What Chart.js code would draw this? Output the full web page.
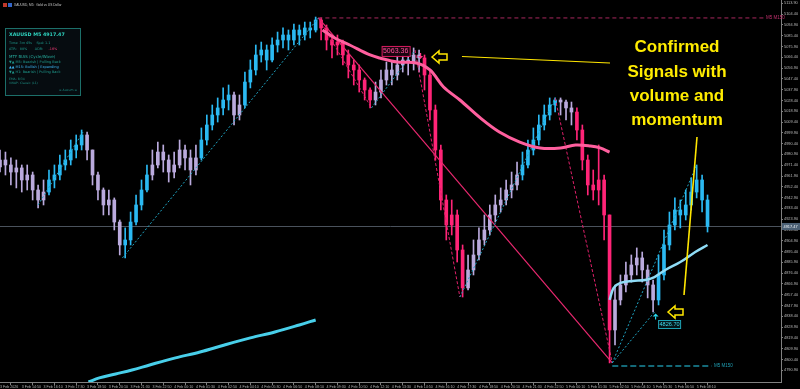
<!DOCTYPE html>
<html>
<head>
<meta charset="utf-8">
<script src="https://cdn.jsdelivr.net/npm/chart.js@4.4.1/dist/chart.umd.min.js"></script>
<style>
  html, body { margin: 0; padding: 0; background: #000; }
  #wrap { width: 800px; height: 389px; position: relative; }
</style>
</head>
<body>
<div id="wrap"><canvas id="chart"></canvas></div>
<script>
// one drawn candle = 4 M5 bars
const barStep = 4;
const firstOpen = 4970.0;
const lastPrice = 4917.47;

const closes = [
  4976.0, 4971.6, 4965.4, 4969.0, 4958.4, 4962.8, 4949.6, 4940.8, 4947.8, 4958.4,
  4962.8, 4971.6, 4976.0, 4984.8, 4989.2, 4998.0, 4984.8, 4962.8, 4949.6, 4936.4,
  4940.8, 4921.4, 4901.2, 4905.6, 4921.4, 4936.4, 4949.6, 4962.8, 4971.6, 4983.0,
  4976.0, 4965.4, 4971.6, 4984.8, 4977.8, 4967.2, 4977.8, 4993.6, 5006.8, 5015.6,
  5021.8, 5028.8, 5033.2, 5015.6, 5024.4, 5044.6, 5055.2, 5068.4, 5072.8, 5064.0,
  5077.2, 5081.6, 5086.0, 5081.6, 5090.4, 5086.0, 5092.2, 5090.4, 5099.2, 5092.2,
  5081.6, 5077.2, 5079.8, 5068.4, 5059.6, 5055.2, 5046.4, 5037.6, 5028.8, 5035.8,
  5046.4, 5055.2, 5050.8, 5059.6, 5064.0, 5062.2, 5068.4, 5065.8, 5050.8, 5020.0,
  4984.8, 4940.8, 4918.8, 4927.6, 4896.8, 4863.4, 4879.2, 4892.4, 4905.6, 4914.4,
  4927.6, 4936.4, 4940.8, 4949.6, 4954.0, 4962.8, 4971.6, 4984.8, 4993.6, 5006.8,
  5015.6, 5024.4, 5028.8, 5027.0, 5021.8, 5018.2, 5002.4, 4976.0, 4954.0, 4949.6,
  4958.4, 4927.6, 4826.4, 4852.8, 4866.0, 4874.8, 4883.6, 4889.8, 4879.2, 4866.0,
  4852.8, 4874.8, 4901.2, 4918.8, 4932.0, 4927.6, 4936.4, 4947.8, 4958.4, 4940.8,
  4917.47
];
const highs = [
  4984.8, 4983.0, 4977.8, 4976.0, 4971.6, 4971.6, 4965.4, 4954.0, 4958.4, 4967.2,
  4971.6, 4980.4, 4984.8, 4993.6, 4998.0, 5002.4, 5000.6, 4984.8, 4965.4, 4951.4,
  4949.6, 4942.6, 4923.2, 4916.2, 4930.2, 4945.2, 4958.4, 4971.6, 4984.8, 4991.8,
  4989.2, 4980.4, 4983.0, 4993.6, 4989.2, 4984.8, 4989.2, 5004.2, 5015.6, 5024.4,
  5030.6, 5039.4, 5042.0, 5035.8, 5033.2, 5053.4, 5064.0, 5077.2, 5079.8, 5077.2,
  5083.4, 5088.6, 5092.2, 5090.4, 5095.7, 5094.8, 5097.4, 5097.4, 5101.8, 5101.0,
  5094.8, 5086.0, 5086.0, 5081.6, 5072.8, 5064.0, 5059.6, 5048.2, 5039.4, 5044.6,
  5055.2, 5062.2, 5062.2, 5068.4, 5071.0, 5071.0, 5074.6, 5072.8, 5068.4, 5055.2,
  5024.4, 4989.2, 4945.2, 4940.8, 4932.0, 4901.2, 4892.4, 4905.6, 4916.2, 4927.6,
  4936.4, 4945.2, 4951.4, 4958.4, 4965.4, 4974.2, 4983.0, 4993.6, 5004.2, 5015.6,
  5024.4, 5030.6, 5030.6, 5030.6, 5028.8, 5027.0, 5021.8, 5006.8, 4980.4, 4967.2,
  4989.2, 4962.8, 4927.6, 4866.0, 4874.8, 4886.2, 4892.4, 4898.6, 4895.0, 4883.6,
  4870.4, 4892.4, 4914.4, 4930.2, 4942.6, 4940.8, 4949.6, 4960.2, 4971.6, 4962.8,
  4945.2
];
const lows = [
  4965.4, 4962.8, 4954.0, 4951.4, 4947.8, 4949.6, 4940.8, 4933.8, 4936.4, 4945.2,
  4951.4, 4958.4, 4967.2, 4971.6, 4977.8, 4984.8, 4976.0, 4954.0, 4940.8, 4927.6,
  4927.6, 4914.4, 4892.4, 4889.8, 4901.2, 4918.8, 4932.0, 4947.8, 4958.4, 4969.0,
  4965.4, 4956.6, 4960.2, 4969.0, 4967.2, 4954.0, 4962.8, 4976.0, 4989.2, 5002.4,
  5009.4, 5015.6, 5020.0, 5006.8, 5011.2, 5021.8, 5039.4, 5050.8, 5062.2, 5055.2,
  5062.2, 5071.0, 5074.6, 5072.8, 5077.2, 5077.2, 5081.6, 5083.4, 5088.6, 5081.6,
  5072.8, 5065.8, 5068.4, 5059.6, 5048.2, 5042.0, 5035.8, 5028.8, 5021.8, 5024.4,
  5030.6, 5042.0, 5042.0, 5046.4, 5053.4, 5050.8, 5055.2, 5053.4, 5037.6, 5011.2,
  4976.0, 4932.0, 4905.6, 4910.0, 4886.2, 4855.4, 4861.6, 4874.8, 4888.0, 4901.2,
  4910.0, 4921.4, 4930.2, 4936.4, 4942.6, 4949.6, 4958.4, 4969.0, 4980.4, 4989.2,
  5002.4, 5011.2, 5018.2, 5015.6, 5011.2, 5006.8, 4993.6, 4967.2, 4945.2, 4940.8,
  4936.4, 4905.6, 4797.4, 4813.2, 4848.4, 4859.8, 4868.6, 4874.8, 4868.6, 4854.6,
  4842.2, 4848.4, 4870.4, 4896.8, 4914.4, 4916.2, 4923.2, 4932.0, 4942.6, 4930.2,
  4912.6
];
// candle state: u = bullish wave, d = bearish wave, n = ranging
const trend = [
  'nnnnnnnnn', 'uuuuuuu', 'nnnnnnn', 'uuuuu', 'nnnnnnnnn', 'uuuuuu', 'nn',
  'uuuuuuuuuuuuuu', 'dddddddddd', 'nnnnnnnnn', 'dddddddd', 'nnnnnnnnnn',
  'uuuuuuu', 'nnn', 'ddddddd', 'nnnnnnnn', 'uuuuuuuuuu'
].join('');

// moving averages (x in M5 bars)
const emaX = [237, 246, 257, 272, 279, 292, 306, 316, 326, 338, 353, 367, 382, 397, 412, 423, 434, 441, 448];
const emaY = [5090.4, 5083.4, 5077.2, 5068.4, 5065.8, 5062.2, 5061.4, 5055.2, 5040.2, 5028.8, 5013.0, 5000.6, 4991.8, 4986.6, 4986.6, 4989.2, 4988.3, 4986.6, 4983.0];
const slowX = [65, 73, 85, 97, 110, 129, 147, 165, 184, 202, 220, 232];
const slowY = [4780.6, 4784.2, 4787.7, 4791.2, 4795.6, 4801.8, 4807.0, 4813.2, 4819.4, 4824.6, 4830.8, 4835.2];
const fastX = [448, 451, 456, 465, 474, 481, 489, 500, 511, 520];
const fastY = [4852.8, 4863.4, 4867.8, 4869.5, 4870.4, 4873.0, 4879.2, 4886.2, 4895.0, 4901.2];

// swings [fromBar, fromPrice, toBar, toPrice]
const upSwings = [
  [28, 4936.4, 61, 5000.6], [90, 4889.8, 234, 5101.0], [273, 5021.8, 305, 5072.8],
  [338, 4855.4, 408, 5030.6], [450, 4797.4, 481, 4842.2], [450, 4797.4, 512, 4971.6]
];
const downSwings = [
  [234, 5101.0, 273, 5021.8], [305, 5072.8, 338, 4855.4], [408, 5030.6, 450, 4797.4]
];
const mainSwing = [234, 5101.0, 450, 4797.4];
const topLevel = [234, 562, 5101.0];
const bottomLevel = [450, 523, 4794.7];

const xTickBars = [0, 16, 32, 48, 64, 80, 96, 112, 128, 144, 160, 176, 192, 208, 224, 240, 256,
  272, 288, 304, 320, 336, 352, 368, 384, 400, 416, 432, 448, 464, 480, 496, 512];
const xTickLabels = ['3 Feb 2026', '3 Feb 14:50', '3 Feb 16:10', '3 Feb 17:30', '3 Feb 18:50', '3 Feb 20:10',
  '3 Feb 21:30', '3 Feb 22:50', '4 Feb 00:10', '4 Feb 01:30', '4 Feb 02:50', '4 Feb 04:10', '4 Feb 05:30',
  '4 Feb 06:50', '4 Feb 08:10', '4 Feb 09:30', '4 Feb 10:50', '4 Feb 12:10', '4 Feb 13:30', '4 Feb 14:50',
  '4 Feb 16:10', '4 Feb 17:30', '4 Feb 18:50', '4 Feb 20:10', '4 Feb 21:30', '4 Feb 22:50', '5 Feb 00:10',
  '5 Feb 01:30', '5 Feb 02:50', '5 Feb 04:10', '5 Feb 05:30', '5 Feb 06:50', '5 Feb 08:10'];
const yTicks = [5113.90, 5104.40, 5094.90, 5085.40, 5075.90, 5066.40, 5056.90, 5047.40, 5037.90, 5028.40,
  5018.90, 5009.40, 4999.90, 4990.40, 4980.90, 4971.40, 4961.90, 4952.40, 4942.90, 4933.40, 4923.90,
  4914.40, 4904.90, 4895.40, 4885.90, 4876.40, 4866.90, 4857.40, 4847.90, 4838.40, 4828.90, 4819.40,
  4809.90, 4800.40, 4790.90];

const trendColor = { u: '#2bb9f2', d: '#ff2477', n: '#baaadd' };
const candleColors = trend.split('').map((t) => trendColor[t]);

function lineSet(xs, ys, color, width, dash, tension, order) {
  return {
    type: 'line',
    data: xs.map((x, i) => ({ x: x, y: ys[i] })),
    borderColor: color,
    borderWidth: width,
    borderDash: dash,
    pointRadius: 0,
    tension: tension,
    fill: false,
    order: order,
  };
}
function swingSet(s, color, width, dash) {
  return lineSet([s[0], s[2]], [s[1], s[3]], color, width, dash, 0, 3);
}

const datasets = [
  {
    type: 'bar',
    data: closes.map((c, i) => ({ x: i * barStep, y: [lows[i], highs[i]] })),
    backgroundColor: candleColors,
    barThickness: 1,
    grouped: false,
    order: 10,
  },
  {
    type: 'bar',
    data: closes.map((c, i) => ({ x: i * barStep, y: [i ? closes[i - 1] : firstOpen, c] })),
    backgroundColor: candleColors,
    barThickness: 3,
    grouped: false,
    order: 9,
  },
  ...upSwings.map((s) => swingSet(s, '#1fa5c4', 1, [2, 2])),
  ...downSwings.map((s) => swingSet(s, '#e0206a', 1, [3, 2])),
  swingSet(mainSwing, '#e8286f', 1.2, []),
  lineSet([topLevel[0], topLevel[1]], [topLevel[2], topLevel[2]], '#a8285e', 1, [4, 3], 0, 4),
  lineSet([bottomLevel[0], bottomLevel[1]], [bottomLevel[2], bottomLevel[2]], '#1b8ca0', 1.6, [6, 3], 0, 4),
  lineSet(emaX, emaY, '#ff5f9e', 3, [], 0.35, 1),
  lineSet(slowX, slowY, '#48cfea', 3, [], 0.35, 1),
  lineSet(fastX, fastY, '#8fdcf6', 2.5, [], 0.35, 1),
];

function txt(ctx, s, x, y, font, color, align) {
  ctx.font = font;
  ctx.fillStyle = color;
  ctx.textAlign = align || 'left';
  ctx.textBaseline = 'middle';
  ctx.fillText(s, x, y);
}

function hollowArrow(ctx, x0, cy) {
  ctx.beginPath();
  ctx.moveTo(x0, cy);
  ctx.lineTo(x0 + 7, cy - 6);
  ctx.lineTo(x0 + 7, cy - 3);
  ctx.lineTo(x0 + 15, cy - 3);
  ctx.lineTo(x0 + 15, cy + 3);
  ctx.lineTo(x0 + 7, cy + 3);
  ctx.lineTo(x0 + 7, cy + 6);
  ctx.closePath();
  ctx.stroke();
}

const overlay = {
  id: 'overlay',
  beforeDatasetsDraw(chart) {
    const { ctx, chartArea: a, scales } = chart;
    const py = Math.round(scales.y.getPixelForValue(lastPrice)) + 0.5;
    ctx.save();
    ctx.strokeStyle = '#4a525c';
    ctx.lineWidth = 1;
    ctx.beginPath();
    ctx.moveTo(a.left, py);
    ctx.lineTo(a.right, py);
    ctx.stroke();
    ctx.restore();
  },
  afterDraw(chart) {
    const { ctx, scales } = chart;
    const xs = scales.x, ys = scales.y;
    ctx.save();

    // title
    ctx.fillStyle = '#c0392b';
    ctx.fillRect(3, 3, 4, 4);
    ctx.fillStyle = '#3466c8';
    ctx.fillRect(8, 3, 4, 4);
    txt(ctx, 'XAUUSD, M5:  Gold vs US Dollar', 14, 5.5, '3.2px "Liberation Sans"', '#c8c8c8');

    // current price tag
    const py = ys.getPixelForValue(lastPrice);
    ctx.fillStyle = '#4b6075';
    ctx.fillRect(782, py - 3.5, 18, 7);
    txt(ctx, lastPrice.toFixed(2), 783.5, py, '3.9px "Liberation Sans"', '#f0f4f8');

    // level labels
    txt(ctx, 'M5 M150', 766, ys.getPixelForValue(topLevel[2]), '4.5px "Liberation Sans"', '#c2306e');
    txt(ctx, 'M5 M150', 714, ys.getPixelForValue(bottomLevel[2]), '4.5px "Liberation Sans"', '#1f9fb4');

    // swing high label
    const hx = xs.getPixelForValue(76 * barStep), hy = ys.getPixelForValue(highs[76]);
    ctx.fillStyle = '#1a0610';
    ctx.fillRect(hx - 32, hy - 2, 28, 10);
    ctx.strokeStyle = '#d81b60';
    ctx.lineWidth = 1;
    ctx.strokeRect(hx - 32 + 0.5, hy - 2 + 0.5, 28, 10);
    txt(ctx, '5063.36', hx - 18, hy + 3.3, '7px "Liberation Sans"', '#ff4f9a', 'center');
    // sell arrow
    const ax = xs.getPixelForValue(77 * barStep) + 1.5, ay = ys.getPixelForValue(highs[77]) + 3;
    ctx.fillStyle = '#ff3d8b';
    ctx.fillRect(ax - 0.6, ay, 1.2, 3);
    ctx.beginPath();
    ctx.moveTo(ax - 2.5, ay + 3);
    ctx.lineTo(ax + 2.5, ay + 3);
    ctx.lineTo(ax, ay + 6);
    ctx.closePath();
    ctx.fill();

    // swing low label
    const lx = xs.getPixelForValue(120 * barStep), ly = ys.getPixelForValue(lows[120]);
    ctx.fillStyle = '#29d6ea';
    ctx.beginPath();
    ctx.moveTo(lx + 2.5, ly + 1.5);
    ctx.lineTo(lx - 0.5, ly + 4.5);
    ctx.lineTo(lx + 5.5, ly + 4.5);
    ctx.closePath();
    ctx.fill();
    ctx.fillRect(lx + 1.9, ly + 4.5, 1.2, 3);
    ctx.fillStyle = '#04161a';
    ctx.fillRect(lx + 5, ly + 8, 22, 8);
    ctx.strokeStyle = '#1fa3b5';
    ctx.strokeRect(lx + 5.5, ly + 8.5, 22, 8);
    txt(ctx, '4826.70', lx + 16.5, ly + 12.6, '5.6px "Liberation Sans"', '#3fd7ea', 'center');

    // yellow annotation
    ctx.strokeStyle = '#ffe600';
    ctx.lineWidth = 1.5;
    hollowArrow(ctx, 432, 57);
    hollowArrow(ctx, 668, 312);
    ctx.lineWidth = 1.2;
    ctx.beginPath();
    ctx.moveTo(462, 56.5);
    ctx.lineTo(610, 63);
    ctx.stroke();
    ctx.lineWidth = 1.6;
    ctx.beginPath();
    ctx.moveTo(697, 137);
    ctx.lineTo(684, 295);
    ctx.stroke();
    const yFont = 'bold 17px "Liberation Sans"';
    txt(ctx, 'Confirmed', 677, 47, yFont, '#ffec00', 'center');
    txt(ctx, 'Signals with', 677, 72, yFont, '#ffec00', 'center');
    txt(ctx, 'volume and', 677, 96, yFont, '#ffec00', 'center');
    txt(ctx, 'momentum', 677, 120, yFont, '#ffec00', 'center');

    // info panel
    ctx.fillStyle = 'rgba(6, 13, 17, 0.96)';
    ctx.fillRect(5, 28, 75.5, 67.5);
    ctx.strokeStyle = '#1c6f69';
    ctx.lineWidth = 1;
    ctx.strokeRect(5.5, 28.5, 75, 67);
    const f = '"DejaVu Sans"';
    txt(ctx, 'XAUUSD M5 4917.47', 9, 34.5, 'bold 4.8px ' + f, '#2fd6c2');
    txt(ctx, 'Time: 3m 45s    Spd: 1.1', 9, 43, '3.4px ' + f, '#1f9a8d');
    txt(ctx, 'ATR:   88%       ADR:', 9, 48.7, '3.4px ' + f, '#1f9a8d');
    txt(ctx, '-16%', 48.5, 48.7, '3.4px ' + f, '#ff3c7a');
    txt(ctx, 'MTF BIAS (Cycle/Wave)', 9, 56.7, '4px ' + f, '#27ae9f');
    txt(ctx, '▼▲ M5: Bearish | Pulling Back', 9, 61.7, '3.5px ' + f, '#1f9a8d');
    txt(ctx, '▲▲ M15: Bullish | Expanding', 9, 66.7, '3.5px ' + f, '#3cb6f2');
    txt(ctx, '▼▲ H1: Bearish | Pulling Back', 9, 71.7, '3.5px ' + f, '#1f9a8d');
    txt(ctx, 'EMA: 8/34', 9, 78.7, '3.1px ' + f, '#1d8c81');
    txt(ctx, 'VWAP: Classic (L1)', 9, 83.3, '3.1px ' + f, '#1d8c81');
    txt(ctx, '≡ Auxum ≡', 77, 90.5, '3.1px ' + f, '#1d8c81', 'right');

    ctx.restore();
  },
};

new Chart(document.getElementById('chart'), {
  type: 'bar',
  data: { datasets: datasets },
  options: {
    responsive: true,
    maintainAspectRatio: false,
    animation: false,
    devicePixelRatio: 1,
    layout: { padding: 0 },
    plugins: { legend: { display: false }, tooltip: { enabled: false } },
    scales: {
      x: {
        type: 'linear',
        min: 0,
        max: 574,
        offset: false,
        grid: { drawOnChartArea: false, color: '#808080', tickLength: 3 },
        border: { color: '#808080' },
        afterBuildTicks: (scale) => { scale.ticks = xTickBars.map((v) => ({ value: v })); },
        afterFit: (scale) => { scale.height = 7; scale.paddingLeft = 0; scale.paddingRight = 0; },
        ticks: {
          autoSkip: false,
          maxRotation: 0,
          align: 'start',
          padding: 0,
          color: '#b4b4b4',
          font: { family: 'Liberation Sans', size: 3.6 },
          callback: (v, i) => xTickLabels[i],
        },
      },
      y: {
        type: 'linear',
        position: 'right',
        min: 4780.6,
        max: 5116.8,
        grid: { drawOnChartArea: false, color: '#808080', tickLength: 2 },
        border: { color: '#808080' },
        afterBuildTicks: (scale) => { scale.ticks = yTicks.map((v) => ({ value: v })); },
        afterFit: (scale) => { scale.width = 19; scale.paddingTop = 0; scale.paddingBottom = 0; },
        ticks: {
          autoSkip: false,
          padding: 1,
          color: '#b8b8b8',
          font: { family: 'Liberation Sans', size: 3.9 },
          callback: (v) => v.toFixed(2),
        },
      },
    },
  },
  plugins: [overlay],
});
</script>
</body>
</html>
